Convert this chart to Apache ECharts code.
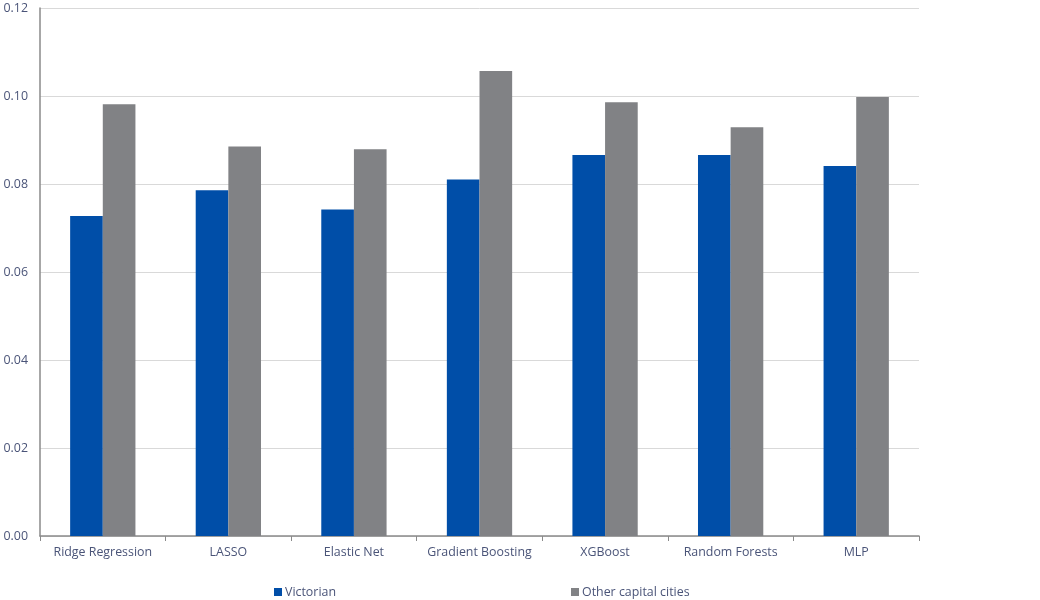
<!DOCTYPE html>
<html><head><meta charset="utf-8">
<script src="https://cdn.jsdelivr.net/npm/echarts@6/dist/echarts.min.js"></script>
<style>html,body{margin:0;padding:0;background:#fff}#c{width:1040px;height:600px}</style>
</head><body><div id="c"></div>
<script>
const categories = ['Ridge Regression','LASSO','Elastic Net','Gradient Boosting','XGBoost','Random Forests','MLP'];
const victorian = [0.0727,0.0786,0.0742,0.0810,0.0866,0.0866,0.0841];
const otherCities = [0.0981,0.0885,0.0879,0.1057,0.0986,0.0929,0.0998];
const yTicks = [0,0.02,0.04,0.06,0.08,0.10,0.12];
const seriesNames = ['Victorian','Other capital cities'];

const textColor = '#4a5478';
const font = 'Open Sans';
const fs = 12.4;
const chart = echarts.init(document.getElementById('c'), null, {renderer:'canvas'});
chart.setOption({
  animation:false,
  grid:{left:40,right:121,top:8,bottom:64,containLabel:false},
  legend:[
    {data:[seriesNames[0]],left:269,top:581,itemWidth:8,itemHeight:8,itemGap:4,icon:'rect',
     textStyle:{color:textColor,fontFamily:font,fontSize:fs,padding:[0,0,0,-2]}},
    {data:[seriesNames[1]],left:566,top:581,itemWidth:8,itemHeight:8,itemGap:4,icon:'rect',
     textStyle:{color:textColor,fontFamily:font,fontSize:fs,padding:[0,0,0,-2]}}
  ],
  xAxis:{type:'category',data:categories,
    axisLine:{lineStyle:{color:'#8a8a8a',width:1.5}},
    axisTick:{show:true,length:5,lineStyle:{color:'#8a8a8a'}},
    axisLabel:{color:textColor,fontFamily:font,fontSize:fs,margin:10,interval:0}},
  yAxis:{type:'value',min:yTicks[0],max:yTicks[yTicks.length-1],interval:0.02,
    axisLine:{show:true,lineStyle:{color:'#8a8a8a',width:1.5}},
    axisTick:{show:false},
    splitLine:{lineStyle:{color:'#d9d9d9'}},
    axisLabel:{color:textColor,fontFamily:font,fontSize:fs,margin:12,formatter:v=>v.toFixed(2)}},
  series:[
    {name:seriesNames[0],type:'bar',data:victorian,barGap:'0%',barCategoryGap:'48%',
     itemStyle:{color:'#004ea8'}},
    {name:seriesNames[1],type:'bar',data:otherCities,barGap:'0%',barCategoryGap:'48%',
     itemStyle:{color:'#818285'}}
  ]
});
</script></body></html>
